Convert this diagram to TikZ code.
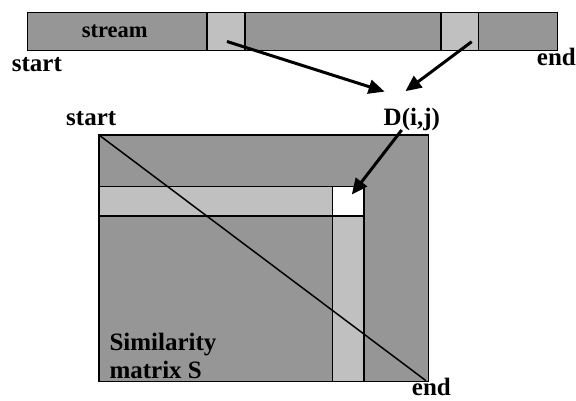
\documentclass[tikz,border=0pt]{standalone}
\usepackage{fontspec}
\setmainfont{Liberation Serif}
\usetikzlibrary{arrows.meta}
\definecolor{dark}{RGB}{150,150,150}
\definecolor{light}{RGB}{192,192,192}
\begin{document}
\begin{tikzpicture}[x=1pt,y=-1pt,
  box/.style={draw=black,line width=1.5pt},
  lbl/.style={inner sep=0pt,anchor=base west,font=\fontsize{25}{27}\selectfont\bfseries},
  bigarrow/.style={line width=3pt,-{Triangle[length=16pt,width=14pt]},shorten >=-2pt}]
\useasboundingbox (0,0) rectangle (576,400);
% stream bar
\draw[box,fill=dark] (27.7,12.7) rectangle (557.7,50.7);
\draw[box,fill=light] (207,12.7) rectangle (245,50.7);
\draw[box,fill=light] (441,12.7) rectangle (478.7,50.7);
\node[lbl,font=\fontsize{22.5}{24}\selectfont\bfseries] (stream) at (81.7,37.3) {stream};
\node[lbl] (start1) at (11.7,71) {start};
\node[lbl] (end1) at (536.7,65.7) {end};
% matrix
\draw[box,fill=dark] (99,135) rectangle (428.3,381.7);
\draw[box,fill=light] (99,186.7) rectangle (332.3,216);
\draw[box,fill=white] (332.3,186.7) rectangle (364,216);
\draw[box,fill=light] (332.3,216) rectangle (364,381.7);
\coordinate (mtl) at (99,135);
\coordinate (mbr) at (426,380.7);
\draw[line width=1.5pt] (mtl) -- (mbr);
\node[lbl] (dij) at (383.5,125) {D(i,j)};
\node[lbl] (start2) at (66,125) {start};
\node[lbl] (end2) at (411.7,395) {end};
\node[lbl] (sim1) at (109.3,350) {Similarity};
\node[lbl] (sim2) at (109.3,378) {matrix S};
% arrows
\coordinate (a1s) at (227,41.5);
\coordinate (a1e) at (382.7,91);
\coordinate (a2s) at (471.7,41.7);
\coordinate (a2e) at (407,90);
\coordinate (a3s) at (401.7,130);
\coordinate (a3e) at (353,193);
\draw[bigarrow] (a1s) -- (a1e);
\draw[bigarrow] (a2s) -- (a2e);
\draw[bigarrow] (a3s) -- (a3e);
\end{tikzpicture}
\end{document}
